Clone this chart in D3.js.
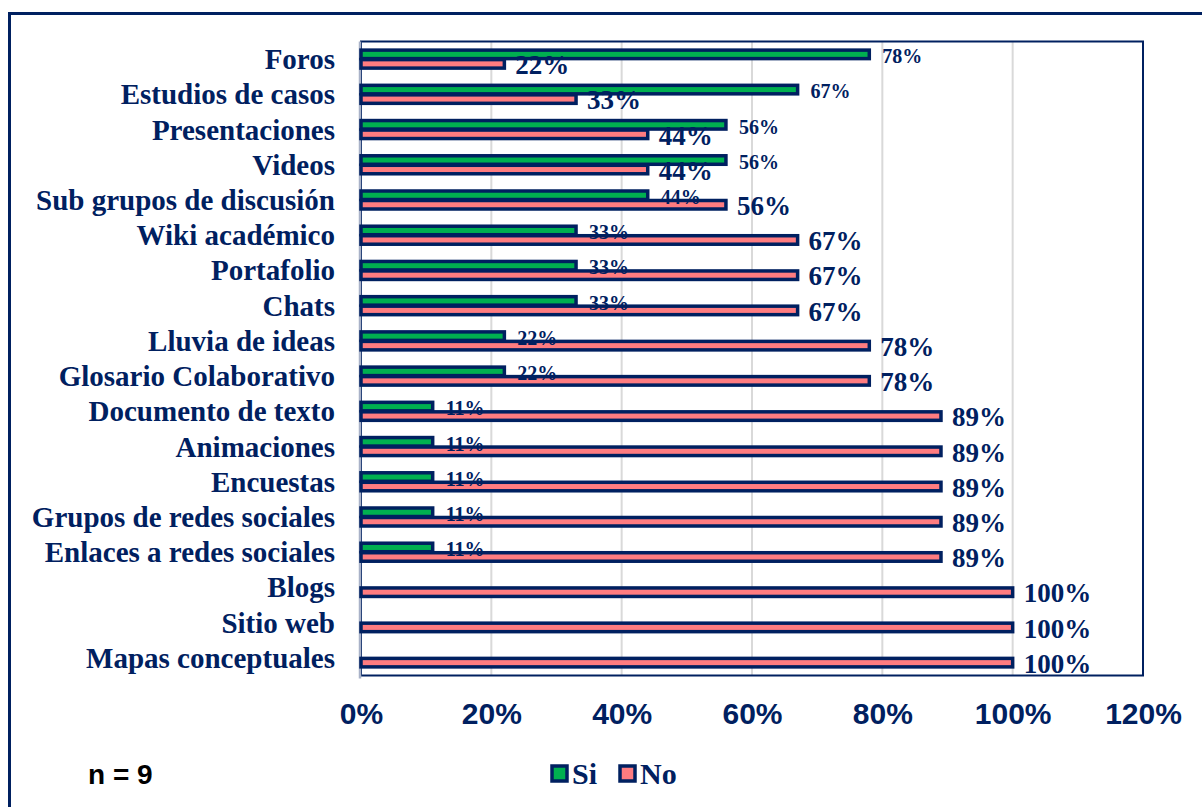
<!DOCTYPE html>
<html>
<head>
<meta charset="utf-8">
<script src="https://cdn.jsdelivr.net/npm/d3@7"></script>
<style>
  body { margin: 0; background: #fff; }
  svg { display: block; }
</style>
</head>
<body>
<svg id="chart" width="1202" height="807"></svg>
<script>
// categories, top to bottom
const categories = [
  "Foros", "Estudios de casos", "Presentaciones", "Videos", "Sub grupos de discusión",
  "Wiki académico", "Portafolio", "Chats", "Lluvia de ideas", "Glosario Colaborativo",
  "Documento de texto", "Animaciones", "Encuestas", "Grupos de redes sociales",
  "Enlaces a redes sociales", "Blogs", "Sitio web", "Mapas conceptuales"
];
const siValues = [78, 67, 56, 56, 44, 33, 33, 33, 22, 22, 11, 11, 11, 11, 11, 0, 0, 0];
const noValues = [22, 33, 44, 44, 56, 67, 67, 67, 78, 78, 89, 89, 89, 89, 89, 100, 100, 100];
const xTicks = [0, 20, 40, 60, 80, 100, 120];
const seriesNames = ["Si", "No"];
const sampleNote = "n = 9";

const navy = "#002060", green = "#00b050", pink = "#ff7c80";
const serif = "'Liberation Serif', 'Times New Roman', serif";
const sans = "'Liberation Sans', Arial, sans-serif";

const svg = d3.select("#chart");
const plot = {left: 361, right: 1143, top: 41.5, bottom: 675.5};

const x = d3.scaleLinear().domain([0, 120]).range([plot.left, plot.right]);
const y = d3.scaleBand().domain(categories).range([plot.top, plot.bottom]);

// outer frame (runs off the right and bottom edges)
svg.append("rect")
    .attr("x", 9.5).attr("y", 13.5)
    .attr("width", 1300).attr("height", 900)
    .attr("fill", "none").attr("stroke", navy).attr("stroke-width", 3);

// gridlines
svg.append("g")
  .selectAll("line")
  .data(xTicks.filter(d => d > 0 && d < 120))
  .join("line")
    .attr("x1", d => x(d)).attr("x2", d => x(d))
    .attr("y1", plot.top).attr("y2", plot.bottom)
    .attr("stroke", "#d9d9d9").attr("stroke-width", 2);

// plot area border
svg.append("rect")
    .attr("x", plot.left).attr("y", plot.top)
    .attr("width", plot.right - plot.left).attr("height", plot.bottom - plot.top)
    .attr("fill", "none").attr("stroke", navy).attr("stroke-width", 2);
svg.append("line")
    .attr("x1", plot.left - 1).attr("x2", plot.left - 1)
    .attr("y1", plot.top).attr("y2", plot.bottom + 3)
    .attr("stroke", "#a9b2c8").attr("stroke-width", 2.5);

const rows = categories.map((c, i) => ({cat: c, si: siValues[i], no: noValues[i]}));
const cy = d => y(d.cat) + y.bandwidth() / 2;

// bars
const bars = svg.append("g");
bars.selectAll(".si")
  .data(rows.filter(d => d.si > 0))
  .join("rect")
    .attr("class", "si")
    .attr("x", x(0))
    .attr("y", d => cy(d) - 9)
    .attr("width", d => x(d.si) - x(0))
    .attr("height", 8.5)
    .attr("fill", green).attr("stroke", navy).attr("stroke-width", 3.5);
bars.selectAll(".no")
  .data(rows.filter(d => d.no > 0))
  .join("rect")
    .attr("class", "no")
    .attr("x", x(0))
    .attr("y", d => cy(d) + 0.5)
    .attr("width", d => x(d.no) - x(0))
    .attr("height", 8.5)
    .attr("fill", pink).attr("stroke", navy).attr("stroke-width", 3.5);

// data labels
svg.append("g").selectAll("text")
  .data(rows.filter(d => d.si > 0))
  .join("text")
    .attr("x", d => x(d.si) + 13)
    .attr("y", d => cy(d) + 4)
    .attr("font-family", serif).attr("font-weight", "bold")
    .attr("font-size", 20).attr("fill", navy)
    .text(d => d.si + "%");
svg.append("g").selectAll("text")
  .data(rows.filter(d => d.no > 0))
  .join("text")
    .attr("x", d => x(d.no) + 11)
    .attr("y", d => cy(d) + 15)
    .attr("font-family", serif).attr("font-weight", "bold")
    .attr("font-size", 27).attr("fill", navy)
    .text(d => d.no + "%");

// category axis labels
svg.append("g").selectAll("text")
  .data(categories)
  .join("text")
    .attr("x", 335)
    .attr("y", d => y(d) + y.bandwidth() / 2 + 10)
    .attr("text-anchor", "end")
    .attr("font-family", serif).attr("font-weight", "bold")
    .attr("font-size", 29).attr("fill", navy)
    .text(d => d);

// x axis tick labels
const xAxis = d3.axisBottom(x).tickValues(xTicks).tickFormat(d => d + "%").tickSize(0).tickPadding(0);
const gx = svg.append("g")
    .attr("transform", `translate(0,${plot.bottom})`)
    .call(xAxis);
gx.select(".domain").remove();
gx.selectAll("text")
    .attr("dy", null).attr("y", 48.5)
    .attr("font-family", sans).attr("font-weight", "bold")
    .attr("font-size", 30).attr("fill", navy);

// sample size note
svg.append("text")
    .attr("x", 88).attr("y", 784)
    .attr("font-family", sans).attr("font-weight", "bold")
    .attr("font-size", 28).attr("fill", "#000")
    .text(sampleNote);

// legend
const legendX = [552, 620];
const legend = svg.append("g").selectAll("g")
  .data(seriesNames)
  .join("g")
    .attr("transform", (d, i) => `translate(${legendX[i]},766)`);
legend.append("rect")
    .attr("x", 0).attr("y", 0).attr("width", 15).attr("height", 15)
    .attr("fill", (d, i) => i === 0 ? green : pink)
    .attr("stroke", navy).attr("stroke-width", 3.5);
legend.append("text")
    .attr("x", 20).attr("y", 18)
    .attr("font-family", serif).attr("font-weight", "bold")
    .attr("font-size", 30).attr("fill", navy)
    .text(d => d);
</script>
</body>
</html>
